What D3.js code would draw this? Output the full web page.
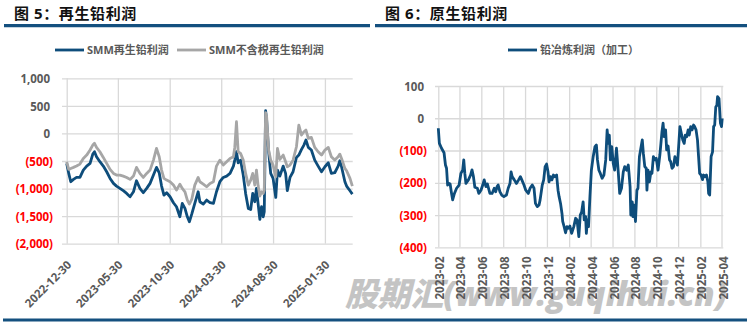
<!DOCTYPE html>
<html>
<head>
<meta charset="utf-8">
<script src="https://cdn.jsdelivr.net/npm/d3@7"></script>
<style>
  html, body { margin: 0; padding: 0; background: #fff; }
  svg { display: block; }
  text { font-family: "Open Sans", "Noto Sans CJK SC", sans-serif; }
</style>
</head>
<body>
<svg id="chart" width="747" height="324"></svg>
<script>
// ---------- 再生铅利润 (figure 5) ----------
const recycledDates = [
  "2022-12-30","2023-01-05","2023-01-11","2023-01-19","2023-01-28","2023-02-07","2023-02-17","2023-02-27",
  "2023-03-09","2023-03-17","2023-03-22","2023-03-28","2023-04-07","2023-04-17","2023-04-27","2023-05-07",
  "2023-05-17","2023-05-26","2023-06-05","2023-06-15","2023-06-25","2023-07-05","2023-07-15","2023-07-24",
  "2023-08-03","2023-08-13","2023-08-23","2023-09-02","2023-09-12","2023-09-21","2023-09-29","2023-10-06",
  "2023-10-13","2023-10-21","2023-10-31","2023-11-10","2023-11-19","2023-11-29","2023-12-06","2023-12-14",
  "2023-12-21","2023-12-27","2024-01-03","2024-01-12","2024-01-22","2024-01-27","2024-02-06","2024-02-16",
  "2024-02-26","2024-03-07","2024-03-16","2024-03-26","2024-04-05","2024-04-15","2024-04-25","2024-05-05",
  "2024-05-09","2024-05-14","2024-05-19","2024-05-26","2024-06-03","2024-06-10","2024-06-18","2024-06-25",
  "2024-07-01","2024-07-07","2024-07-12","2024-07-17","2024-07-22","2024-07-27","2024-08-01","2024-08-04",
  "2024-08-08","2024-08-11","2024-08-17","2024-08-23","2024-08-30","2024-09-07","2024-09-12","2024-09-19",
  "2024-09-29","2024-10-06","2024-10-11","2024-10-19","2024-10-28","2024-11-07","2024-11-14","2024-11-22",
  "2024-11-29","2024-12-05","2024-12-12","2024-12-21","2024-12-31","2025-01-10","2025-01-20","2025-01-30",
  "2025-02-09","2025-02-18","2025-02-28","2025-03-10","2025-03-15","2025-03-20","2025-03-30","2025-04-04",
  "2025-04-14","2025-04-21"
];
const recycledProfit = [
  -544,-725,-876,-834,-798,-798,-665,-592,-544,-375,-332,-422,-513,-592,-695,-816,
  -906,-955,-997,-1039,-1088,-1148,-1058,-858,-997,-1076,-997,-906,-755,-616,-713,-955,
  -1118,-1076,-1148,-1257,-1330,-1512,-1270,-1360,-1512,-1603,-1464,-1270,-1058,-1239,-1281,-1209,
  -1257,-1270,-1058,-876,-798,-774,-725,-592,-484,-332,-532,-484,-755,-1088,-1360,-1379,
  -1088,-1239,-997,-1281,-1560,-1330,-1512,-1421,412,243,-332,-725,-816,-1161,-665,-774,
  -592,-725,-1039,-798,-695,-435,-392,-290,-211,-119,-253,-301,-484,-592,-695,-604,
  -532,-725,-713,-592,-496,-604,-876,-955,-1039,-1100
];
const recycledProfitExTax = [
  -514,-653,-635,-616,-592,-556,-453,-393,-301,-211,-180,-253,-332,-435,-544,-653,
  -725,-755,-755,-774,-798,-834,-774,-616,-725,-798,-725,-665,-484,-272,-423,-665,
  -816,-846,-876,-937,-1028,-919,-997,-1058,-1209,-1281,-1197,-937,-798,-876,-919,-967,
  -906,-876,-592,-484,-574,-514,-453,-423,-253,212,-332,-362,-484,-725,-937,-846,
  -725,-937,-665,-955,-1136,-1058,-1088,-1028,376,304,-301,-484,-574,-786,-272,-472,
  -393,-514,-604,-574,-484,-241,152,-29,31,61,-90,-72,-253,-332,-393,-301,
  -253,-423,-484,-423,-375,-453,-635,-677,-816,-955
];
const recycledXTicks = ["2022-12-30","2023-05-30","2023-10-30","2024-03-30","2024-08-30","2025-01-30"];
const recycledYTicks = [1000, 500, 0, -500, -1000, -1500, -2000];
const recycledSeriesNames = ["SMM再生铅利润", "SMM不含税再生铅利润"];

// ---------- 原生铅利润 (figure 6) ----------
const primaryDates = [
  "2023-02-01","2023-02-04","2023-02-10","2023-02-17","2023-02-21","2023-02-24","2023-02-27","2023-03-03",
  "2023-03-06","2023-03-10","2023-03-13","2023-03-18","2023-03-24","2023-03-31","2023-04-05","2023-04-10",
  "2023-04-13","2023-04-16","2023-04-19","2023-04-26","2023-05-02","2023-05-06","2023-05-10","2023-05-14",
  "2023-05-21","2023-05-25","2023-05-31","2023-06-05","2023-06-09","2023-06-14","2023-06-18","2023-06-25",
  "2023-07-01","2023-07-07","2023-07-11","2023-07-15","2023-07-18","2023-07-23","2023-07-28","2023-08-03",
  "2023-08-10","2023-08-15","2023-08-20","2023-08-23","2023-08-26","2023-09-01","2023-09-07","2023-09-13",
  "2023-09-18","2023-09-22","2023-09-28","2023-10-03","2023-10-10","2023-10-15","2023-10-21","2023-10-26",
  "2023-10-30","2023-11-04","2023-11-09","2023-11-12","2023-11-18","2023-11-22","2023-11-26","2023-11-30",
  "2023-12-04","2023-12-07","2023-12-11","2023-12-15","2023-12-19","2023-12-23","2023-12-28","2024-01-01",
  "2024-01-04","2024-01-08","2024-01-12","2024-01-14","2024-01-18","2024-01-22","2024-01-26","2024-01-29",
  "2024-02-03","2024-02-08","2024-02-14","2024-02-19","2024-02-23","2024-02-28","2024-03-03","2024-03-07",
  "2024-03-11","2024-03-14","2024-03-18","2024-03-20","2024-03-23","2024-03-26","2024-03-30","2024-04-03",
  "2024-04-08","2024-04-13","2024-04-17","2024-04-20","2024-04-24","2024-04-28","2024-05-03","2024-05-08",
  "2024-05-13","2024-05-17","2024-05-20","2024-05-23","2024-05-26","2024-05-30","2024-06-03","2024-06-07",
  "2024-06-12","2024-06-17","2024-06-21","2024-06-26","2024-07-01","2024-07-05","2024-07-10","2024-07-15",
  "2024-07-17","2024-07-20","2024-07-22","2024-07-26","2024-07-28","2024-07-31","2024-08-04","2024-08-08",
  "2024-08-11","2024-08-15","2024-08-19","2024-08-23","2024-08-26","2024-08-30","2024-09-03","2024-09-05",
  "2024-09-08","2024-09-12","2024-09-16","2024-09-19","2024-09-23","2024-09-27","2024-10-01","2024-10-06",
  "2024-10-11","2024-10-14","2024-10-17","2024-10-20","2024-10-23","2024-10-27","2024-10-30","2024-11-03",
  "2024-11-07","2024-11-10","2024-11-14","2024-11-18","2024-11-22","2024-11-25","2024-11-29","2024-12-03",
  "2024-12-06","2024-12-10","2024-12-14","2024-12-18","2024-12-21","2024-12-25","2024-12-29","2025-01-01",
  "2025-01-05","2025-01-09","2025-01-13","2025-01-16","2025-01-20","2025-01-24","2025-01-27","2025-01-30",
  "2025-02-03","2025-02-07","2025-02-10","2025-02-14","2025-02-18","2025-02-22","2025-02-24","2025-02-27",
  "2025-03-03","2025-03-07","2025-03-10","2025-03-13","2025-03-16","2025-03-19","2025-03-21","2025-03-25",
  "2025-03-29","2025-04-01","2025-04-03"
];
const smeltingProfit = [
  -31,-78,-93,-107,-145,-155,-207,-202,-204,-233,-253,-233,-217,-207,-171,-161,
  -129,-171,-202,-191,-176,-160,-181,-214,-217,-233,-223,-207,-191,-212,-204,-233,
  -233,-217,-228,-212,-207,-228,-238,-243,-238,-217,-202,-166,-181,-191,-202,-191,
  -181,-191,-207,-223,-233,-217,-207,-217,-264,-274,-269,-253,-207,-191,-150,-142,
  -166,-197,-181,-191,-176,-181,-176,-223,-243,-264,-295,-320,-336,-355,-336,-341,
  -334,-357,-336,-310,-315,-367,-300,-290,-259,-315,-305,-357,-315,-336,-243,-161,
  -119,-88,-83,-129,-161,-171,-186,-176,-129,-36,-78,-52,-129,-88,-140,-161,
  -93,-166,-233,-217,-166,-150,-161,-145,-171,-212,-300,-259,-305,-269,-320,-223,
  -217,-119,-93,-67,-109,-150,-155,-223,-161,-197,-166,-171,-119,-129,-124,-161,
  -114,-78,-41,-15,-57,-36,-98,-86,-129,-134,-155,-150,-119,-129,-145,-78,
  -26,-47,-67,-78,-52,-57,-36,-52,-26,-36,-21,-26,-36,-67,-119,-171,
  -176,-190,-176,-181,-176,-197,-233,-238,-119,-104,-26,-21,35,40,67,61,
  -15,-26,0
];
const primaryXTicks = ["2023-02","2023-04","2023-06","2023-08","2023-10","2023-12","2024-02",
  "2024-04","2024-06","2024-08","2024-10","2024-12","2025-02","2025-04"];
const primaryYTicks = [100, 0, -100, -200, -300, -400];
const primarySeriesName = "铅冶炼利润（加工）";

// ---------- shared styling ----------
const BLUE = "#0e4d7b";
const GRAY = "#a6a6a6";
const GRID = "#d9d9d9";
const LABEL = "#595959";
const RED = "#ff0000";
const RULE = "#14507f";

const svg = d3.select("#chart");
const parseDay = d3.timeParse("%Y-%m-%d");
const parseMonth = d3.timeParse("%Y-%m");
const fmtNum = d3.format(",");
const fmtAccounting = v => v < 0 ? "(" + fmtNum(-v) + ")" : fmtNum(v);

// Title block with a heavy rule underneath
function drawTitle(x0, x1, label) {
  svg.append("text")
    .attr("x", x0 + 10).attr("y", 19)
    .attr("font-family", "'Noto Sans CJK SC', sans-serif")
    .attr("font-size", 15).attr("font-weight", 700)
    .attr("letter-spacing", 0.6)
    .attr("fill", "#111")
    .text(label);
  svg.append("line")
    .attr("x1", x0).attr("x2", x1).attr("y1", 25.7).attr("y2", 25.7)
    .attr("stroke", RULE).attr("stroke-width", 3.2);
}
drawTitle(4, 370, "图 5：再生铅利润");
drawTitle(375, 747, "图 6：原生铅利润");

// bottom rule
svg.append("line")
  .attr("x1", 3).attr("x2", 747).attr("y1", 320).attr("y2", 320)
  .attr("stroke", RULE).attr("stroke-width", 3);

// watermark
svg.append("text")
  .attr("x", 345).attr("y", 306)
  .attr("font-family", "'Noto Sans CJK SC', sans-serif")
  .attr("font-size", 33).attr("font-weight", 900)
  .attr("font-style", "italic")
  .attr("fill", "#c4c4c4")
  .attr("textLength", 382).attr("lengthAdjust", "spacingAndGlyphs")
  .text("股期汇(www.guqihui.cn)");

// Legend entry: short line sample followed by the series label
function legendItem(x, y, color, label) {
  svg.append("line")
    .attr("x1", x).attr("x2", x + 29).attr("y1", y).attr("y2", y)
    .attr("stroke", color).attr("stroke-width", 2.8);
  svg.append("text")
    .attr("x", x + 32).attr("y", y).attr("dy", "0.36em")
    .attr("font-size", 11).attr("font-weight", 700)
    .attr("fill", LABEL)
    .text(label);
}

// Gridlines + y labels in accounting style (negatives red, in parentheses)
function drawYAxis(g, y, ticks, xLeft, width, labelRight, gridStart) {
  const axis = d3.axisLeft(y)
    .tickValues(ticks)
    .tickSize(0)
    .tickFormat(fmtAccounting);
  const ax = g.append("g").attr("transform", `translate(${xLeft},0)`).call(axis);
  ax.select(".domain").remove();
  ax.selectAll(".tick").append("line")
    .attr("x1", gridStart).attr("x2", width)
    .attr("stroke", GRID).attr("stroke-width", 1.3);
  ax.selectAll(".tick text")
    .attr("x", d => labelRight + (d < 0 ? 0 : -3))
    .attr("dy", "0.36em")
    .attr("font-size", 11.5).attr("font-weight", 700)
    .attr("font-family", "'Open Sans', sans-serif")
    .attr("fill", d => d < 0 ? RED : LABEL);
}

function drawXGrid(g, x, ticks, yTop, yBottom) {
  const axis = d3.axisBottom(x).tickValues(ticks).tickSize(0).tickFormat("");
  const ax = g.append("g").attr("transform", `translate(0,${yBottom})`).call(axis);
  ax.select(".domain").remove();
  ax.selectAll(".tick").append("line")
    .attr("y1", 0).attr("y2", yTop - yBottom)
    .attr("stroke", GRID).attr("stroke-width", 1.3);
  return ax;
}

// ===== figure 5 =====
{
  const xL = d3.scaleTime()
    .domain([parseDay("2022-12-30"), parseDay("2025-04-22")])
    .range([66.7, 352.7]);
  const yL = d3.scaleLinear().domain([-2000, 1000]).range([243.7, 78.3]);
  const g = svg.append("g");

  const tickDates = recycledXTicks.map(parseDay);
  const xg = drawXGrid(g, xL, tickDates, 78.3, 243.7);
  drawYAxis(g, yL, recycledYTicks, 0, 352.7, 53, 62);

  xg.selectAll(".tick").append("text")
    .attr("transform", "translate(5,22) rotate(-45)")
    .attr("text-anchor", "end")
    .attr("font-size", 11.5).attr("font-weight", 700)
    .attr("font-family", "'Open Sans', sans-serif")
    .attr("fill", LABEL)
    .text((d, i) => recycledXTicks[i]);

  const dates = recycledDates.map(parseDay);
  const line = d3.line()
    .x((d, i) => xL(dates[i]))
    .y(d => yL(d))
    .curve(d3.curveLinear);

  g.append("path").datum(recycledProfit)
    .attr("d", line).attr("fill", "none")
    .attr("stroke", BLUE).attr("stroke-width", 2.8)
    .attr("stroke-linejoin", "round");
  g.append("path").datum(recycledProfitExTax)
    .attr("d", line).attr("fill", "none")
    .attr("stroke", GRAY).attr("stroke-width", 2.8)
    .attr("stroke-linejoin", "round");

  legendItem(55, 50, BLUE, recycledSeriesNames[0]);
  legendItem(177, 50, GRAY, recycledSeriesNames[1]);
}

// ===== figure 6 =====
{
  const xR = d3.scaleTime()
    .domain([parseMonth("2023-02"), parseDay("2025-04-06")])
    .range([438.3, 723.3]);
  const yR = d3.scaleLinear().domain([-400, 100]).range([247.3, 86]);
  const g = svg.append("g");

  const tickDates = primaryXTicks.map(parseMonth);
  const xg = drawXGrid(g, xR, tickDates, 86, 247.3);
  drawYAxis(g, yR, primaryYTicks, 0, 723.3, 427, 435);

  xg.selectAll(".tick").append("text")
    .attr("transform", "translate(5.5,9) rotate(-90)")
    .attr("text-anchor", "end")
    .attr("font-size", 11.5).attr("font-weight", 700)
    .attr("font-family", "'Open Sans', sans-serif")
    .attr("fill", LABEL)
    .text((d, i) => primaryXTicks[i]);

  const dates = primaryDates.map(parseDay);
  const line = d3.line()
    .x((d, i) => xR(dates[i]))
    .y(d => yR(d));

  g.append("path").datum(smeltingProfit)
    .attr("d", line).attr("fill", "none")
    .attr("stroke", BLUE).attr("stroke-width", 2.8)
    .attr("stroke-linejoin", "round");

  legendItem(508, 50, BLUE, primarySeriesName);
}
</script>
</body>
</html>
